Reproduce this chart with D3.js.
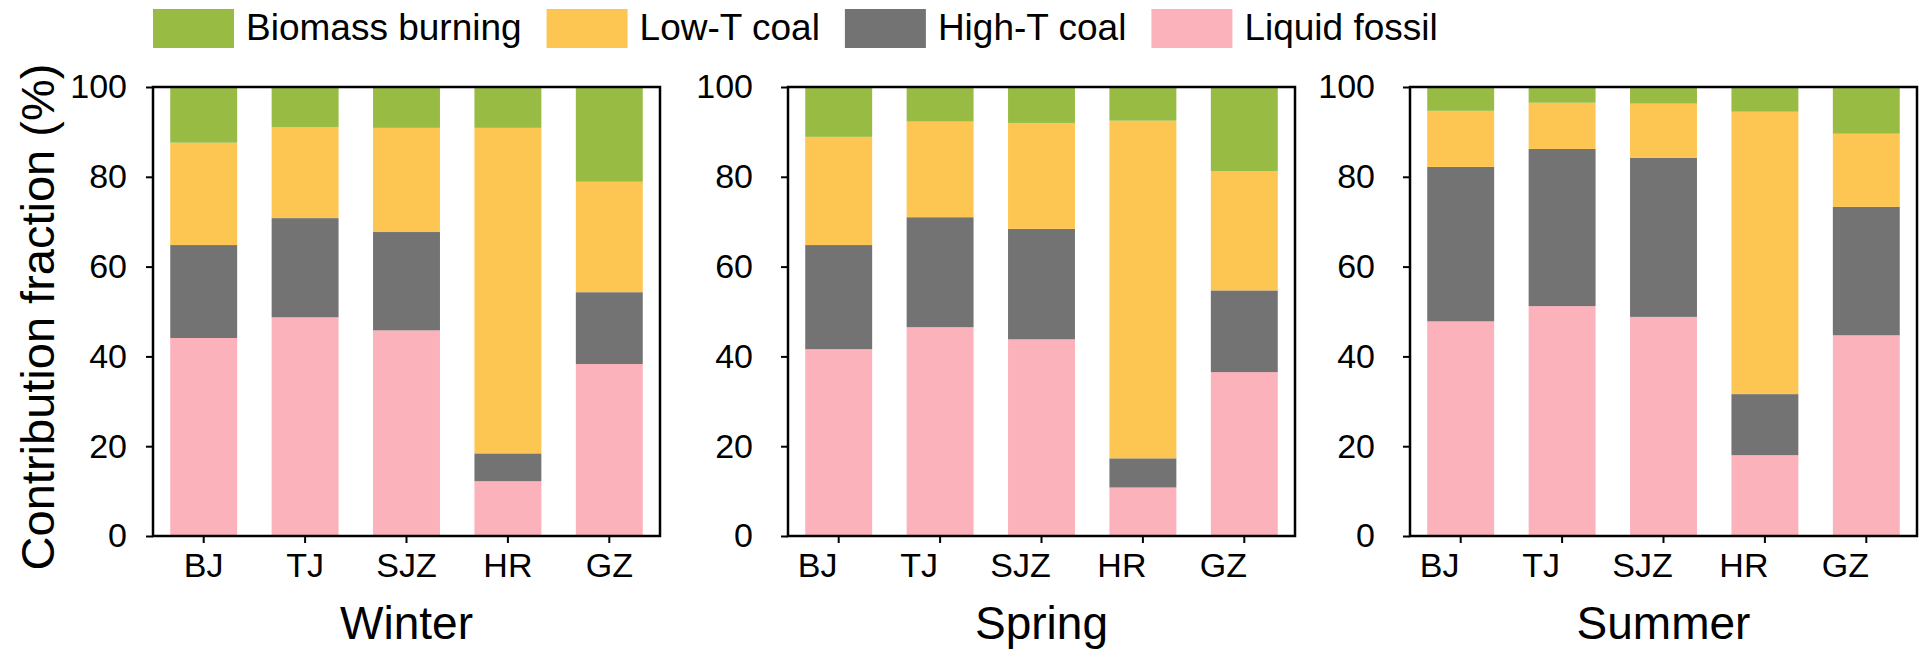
<!DOCTYPE html>
<html>
<head>
<meta charset="utf-8">
<script src="https://cdn.jsdelivr.net/npm/d3@7"></script>
<style>
  body { margin: 0; background: #fff; }
  text { font-family: Arial, "Liberation Sans", sans-serif; fill: #000; }
</style>
</head>
<body>
<div id="chart"></div>
<script>
// data (percent)
const sites = ['BJ', 'TJ', 'SJZ', 'HR', 'GZ'];
const seasons = ['Winter', 'Spring', 'Summer'];
const sources = ['Liquid fossil', 'High-T coal', 'Low-T coal', 'Biomass burning'];
const legendOrder = ['Biomass burning', 'Low-T coal', 'High-T coal', 'Liquid fossil'];
const yTicks = [0, 20, 40, 60, 80, 100];

// one row per season, one value per site
const liquidFossil = [
  [44.1, 48.7, 45.8, 12.2, 38.3],
  [41.6, 46.5, 43.8, 10.8, 36.5],
  [47.8, 51.2, 48.8, 18.0, 44.7]
];
const highTCoal = [
  [20.7, 22.1, 21.9, 6.2, 16.0],
  [23.2, 24.5, 24.6, 6.5, 18.2],
  [34.4, 35.0, 35.4, 13.6, 28.6]
];
const lowTCoal = [
  [22.8, 20.3, 23.2, 72.5, 24.6],
  [24.1, 21.3, 23.6, 75.2, 26.6],
  [12.5, 10.3, 12.1, 62.9, 16.3]
];
const biomassBurning = [
  [12.4, 8.9, 9.1, 9.1, 21.1],
  [11.1, 7.7, 8.0, 7.5, 18.7],
  [5.3, 3.5, 3.7, 5.5, 10.4]
];

const color = d3.scaleOrdinal()
  .domain(sources)
  .range(['#fbb2ba', '#737373', '#fdc652', '#97bb43']);

const width = 1923, height = 658;
const plotTop = 87, plotBottom = 536;
const panelLeft = [153, 788, 1410];
const panelWidth = 507;
const xLabelShift = [0, -21, -21];
const yLabelPad = [19, 28, 28];

const svg = d3.select('#chart')
  .append('svg')
  .attr('width', width)
  .attr('height', height);

const y = d3.scaleLinear().domain([0, 100]).range([plotBottom, plotTop]);

seasons.forEach((season, i) => {
  const g = svg.append('g')
    .attr('transform', `translate(${panelLeft[i]},0)`);

  const x = d3.scaleBand()
    .domain(sites)
    .range([0, panelWidth])
    .paddingInner(0.34)
    .paddingOuter(0.17);

  const rows = sites.map((site, j) => ({
    site,
    'Liquid fossil': liquidFossil[i][j],
    'High-T coal': highTCoal[i][j],
    'Low-T coal': lowTCoal[i][j],
    'Biomass burning': biomassBurning[i][j]
  }));

  const series = d3.stack().keys(sources)(rows);

  g.selectAll('g.layer')
    .data(series)
    .join('g')
    .attr('class', 'layer')
    .attr('fill', d => color(d.key))
    .selectAll('rect')
    .data(d => d)
    .join('rect')
    .attr('x', d => x(d.data.site))
    .attr('width', x.bandwidth())
    .attr('y', d => y(d[1]))
    .attr('height', d => y(d[0]) - y(d[1]));

  // y axis
  const ya = g.append('g')
    .call(d3.axisLeft(y).tickValues(yTicks).tickSize(7).tickSizeOuter(0).tickPadding(yLabelPad[i]));
  ya.select('.domain').remove();
  ya.selectAll('line').attr('stroke', '#000').attr('stroke-width', 2);
  ya.selectAll('text').attr('font-size', 34).attr('font-family', null);

  // x axis
  const xa = g.append('g')
    .attr('transform', `translate(0,${plotBottom})`)
    .call(d3.axisBottom(x).tickSize(7).tickSizeOuter(0).tickPadding(10));
  xa.select('.domain').remove();
  xa.selectAll('line').attr('stroke', '#000').attr('stroke-width', 2);
  xa.selectAll('text').attr('font-size', 34).attr('font-family', null).attr('dx', xLabelShift[i]);

  // frame
  g.append('rect')
    .attr('x', 0)
    .attr('y', plotTop)
    .attr('width', panelWidth)
    .attr('height', plotBottom - plotTop)
    .attr('fill', 'none')
    .attr('stroke', '#000')
    .attr('stroke-width', 2.5);

  g.append('text')
    .attr('x', panelWidth / 2)
    .attr('y', 639)
    .attr('text-anchor', 'middle')
    .attr('font-size', 46)
    .text(season);
});

// y title
svg.append('text')
  .attr('transform', 'translate(54,317) rotate(-90)')
  .attr('text-anchor', 'middle')
  .attr('font-size', 47)
  .text('Contribution fraction (%)');

// legend
let lx = 153;
legendOrder.forEach(key => {
  svg.append('rect')
    .attr('x', lx).attr('y', 9)
    .attr('width', 81).attr('height', 39)
    .attr('fill', color(key));
  const t = svg.append('text')
    .attr('x', lx + 93)
    .attr('y', 40)
    .attr('font-size', 37)
    .text(key);
  lx += 93 + t.node().getComputedTextLength() + 25;
});
</script>
</body>
</html>
